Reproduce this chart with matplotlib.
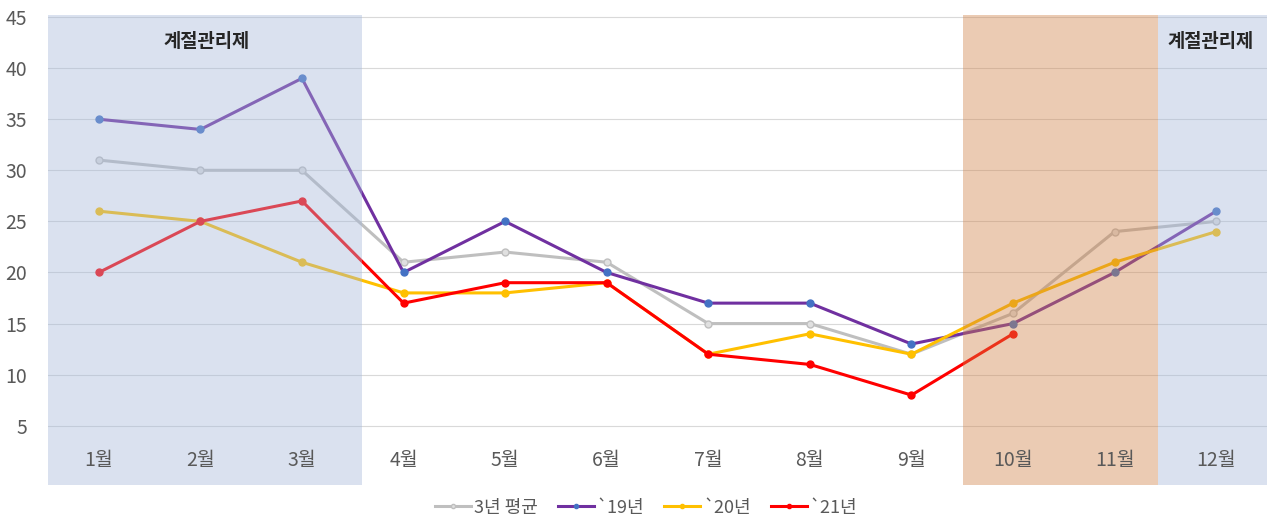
import matplotlib
matplotlib.use('Agg')
import matplotlib.pyplot as plt

plt.rcParams['font.family'] = ['Noto Sans CJK KR', 'DejaVu Sans']

months = ['1월', '2월', '3월', '4월', '5월', '6월', '7월', '8월', '9월', '10월', '11월', '12월']
avg_3y = [31, 30, 30, 21, 22, 21, 15, 15, 12, 16, 24, 25]
y2019 = [35, 34, 39, 20, 25, 20, 17, 17, 13, 15, 20, 26]
y2020 = [26, 25, 21, 18, 18, 19, 12, 14, 12, 17, 21, 24]
y2021 = [20, 25, 27, 17, 19, 19, 12, 11, 8, 14]
y_ticks = [5, 10, 15, 20, 25, 30, 35, 40, 45]
season_label = '계절관리제'

text_gray = '#595959'

fig = plt.figure(figsize=(12.67, 5.19), dpi=100)
ax = fig.add_axes([0.0379, 0.0655, 0.9621, 0.9056])

x = list(range(1, 13))

ax.plot(x, avg_3y, color='#bfbfbf', lw=2.2, marker='o', ms=5,
        mfc='#e0e0e0', mec='#bfbfbf', label='3년 평균', zorder=3)
ax.plot(x, y2019, color='#7030a0', lw=2.2, marker='o', ms=5,
        mfc='#4472c4', mec='#4472c4', label='`19년', zorder=3)
ax.plot(x, y2020, color='#ffc000', lw=2.2, marker='o', ms=5,
        mfc='#ffc000', mec='#ffc000', label='`20년', zorder=3)
ax.plot(x[:len(y2021)], y2021, color='#ff0000', lw=2.2, marker='o', ms=5,
        mfc='#ff0000', mec='#ff0000', label='`21년', zorder=3)

# shaded periods (drawn over the lines, semi transparent)
ax.axvspan(0.5, 3.59, color='#a3b6d9', alpha=0.4, lw=0, zorder=4)
ax.axvspan(11.43, 12.6, color='#a3b6d9', alpha=0.4, lw=0, zorder=4)
ax.axvspan(9.51, 11.43, color='#cf7f43', alpha=0.4, lw=0, zorder=4)

ax.set_xlim(0.5, 12.5)
ax.set_ylim(-0.8, 45.2)
ax.set_yticks(y_ticks)
ax.set_xticks([])
ax.tick_params(axis='y', length=0, pad=15, labelsize=14, labelcolor=text_gray)
for t in y_ticks:
    ax.axhline(t, color='#d9d9d9', lw=0.8, zorder=1)
for s in ax.spines.values():
    s.set_visible(False)

for i, m in enumerate(months):
    ax.text(i + 1, 1.6, m, ha='center', va='center', fontsize=14,
            color=text_gray, zorder=6)

ax.text(2.06, 42.6, season_label, ha='center', va='center', fontsize=13.5,
        fontweight='bold', color='#262626', zorder=6)
ax.text(12.37, 42.6, season_label, ha='right', va='center', fontsize=13.5,
        fontweight='bold', color='#262626', zorder=6)

fig.legend(loc='lower center', bbox_to_anchor=(0.51, -0.027), ncol=4, frameon=False,
           fontsize=13, labelcolor=text_gray, handlelength=2.0, markerscale=0.6,
           handletextpad=0.15, columnspacing=1.1)

fig.savefig('out.png', dpi=100)
